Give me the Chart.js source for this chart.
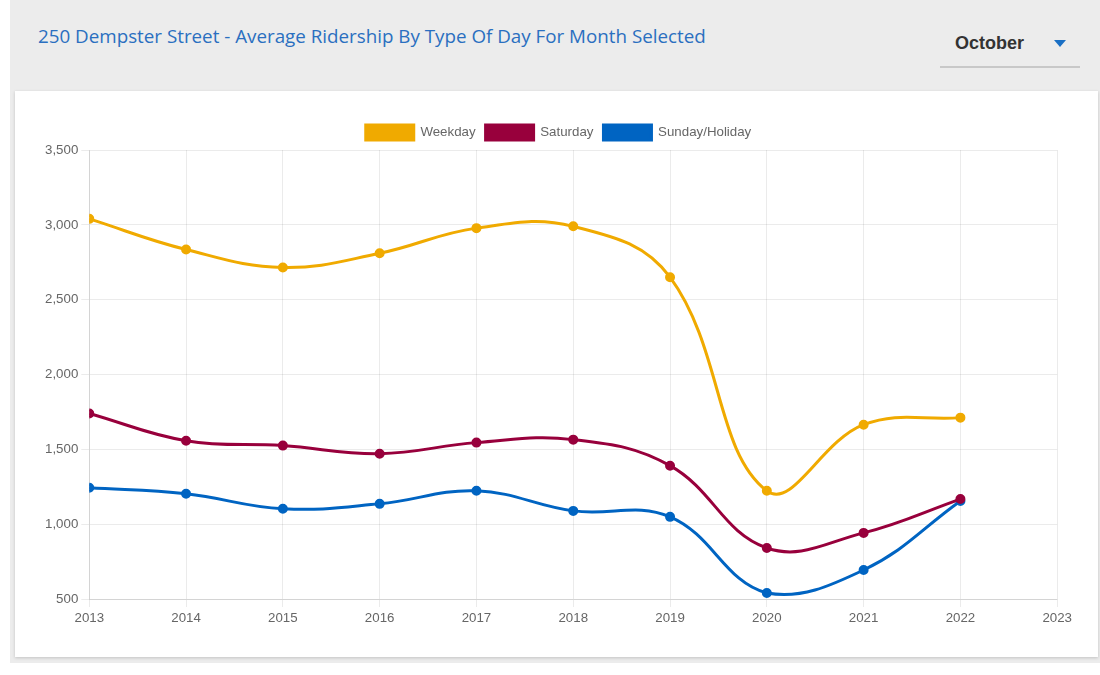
<!DOCTYPE html>
<html>
<head>
<meta charset="utf-8">
<script src="https://cdn.jsdelivr.net/npm/chart.js@4"></script>
<style>
  body { margin: 0; background: #fff; font-family: "Open Sans", sans-serif; }
  .page { position: absolute; left: 10px; top: 0; width: 1090px; height: 663px; background: #ececec; }
  .title { position: absolute; left: 28px; top: 23px; font-size: 18.8px; color: #2a6fc0; }
  .month { position: absolute; left: 930px; top: 30px; width: 140px; height: 36px; border-bottom: 2px solid #c8c8c8; }
  .month span { position: absolute; left: 15px; top: 3px; font-family: "Liberation Sans", Arial, sans-serif; font-weight: bold; font-size: 18px; color: #333; }
  .month i { position: absolute; right: 14px; top: 10px; width: 0; height: 0; border-left: 6px solid transparent; border-right: 6px solid transparent; border-top: 7px solid #1a6fc4; }
  .card { position: absolute; left: 5px; top: 91px; width: 1083px; height: 566px; background: #fff; box-shadow: 0 1px 3px rgba(0,0,0,0.18); }
  .wrap { position: absolute; left: 27px; top: 24px; width: 1033px; height: 514px; }
</style>
</head>
<body>
<div class="page">
  <div class="title">250 Dempster Street - Average Ridership By Type Of Day For Month Selected</div>
  <div class="month"><span>October</span><i></i></div>
  <div class="card">
    <div class="wrap"><canvas id="ridershipChart"></canvas></div>
  </div>
</div>
<script>
  // Data
  const years = [2013, 2014, 2015, 2016, 2017, 2018, 2019, 2020, 2021, 2022];
  const weekday = [3040, 2835, 2715, 2810, 2978, 2990, 2650, 1223, 1665, 1712];
  const saturday = [1740, 1558, 1525, 1471, 1545, 1565, 1391, 841, 942, 1168];
  const sunday = [1243, 1203, 1103, 1136, 1223, 1089, 1049, 540, 694, 1155];

  const toPoints = vals => years.map((yr, i) => ({ x: yr, y: vals[i] }));

  const series = [
    { label: 'Weekday', values: weekday, color: '#f0aa00' },
    { label: 'Saturday', values: saturday, color: '#98003c' },
    { label: 'Sunday/Holiday', values: sunday, color: '#0064c2' }
  ];

  Chart.defaults.font.family = '"Liberation Sans", Arial, sans-serif';
  Chart.defaults.font.size = 13.3;
  Chart.defaults.color = '#666';

  const ctx = document.getElementById('ridershipChart').getContext('2d');
  new Chart(ctx, {
    type: 'line',
    data: {
      datasets: series.map(s => ({
        label: s.label,
        data: toPoints(s.values),
        borderColor: s.color,
        backgroundColor: s.color,
        pointBackgroundColor: s.color,
        borderWidth: 3,
        pointRadius: 3.5,
        tension: 0.4,
        fill: false
      }))
    },
    options: {
      responsive: true,
      maintainAspectRatio: false,
      animation: false,
      plugins: {
        legend: {
          labels: { boxWidth: 48, boxHeight: 15, padding: 10 }
        },
        tooltip: { enabled: false }
      },
      scales: {
        x: {
          type: 'linear',
          min: 2013,
          max: 2023,
          ticks: { stepSize: 1, callback: v => String(v) },
          grid: { color: 'rgba(0,0,0,0.08)' }
        },
        y: {
          min: 500,
          max: 3500,
          ticks: { stepSize: 500, callback: v => v.toLocaleString('en-US') },
          grid: { color: 'rgba(0,0,0,0.08)' }
        }
      }
    }
  });
</script>
</body>
</html>
